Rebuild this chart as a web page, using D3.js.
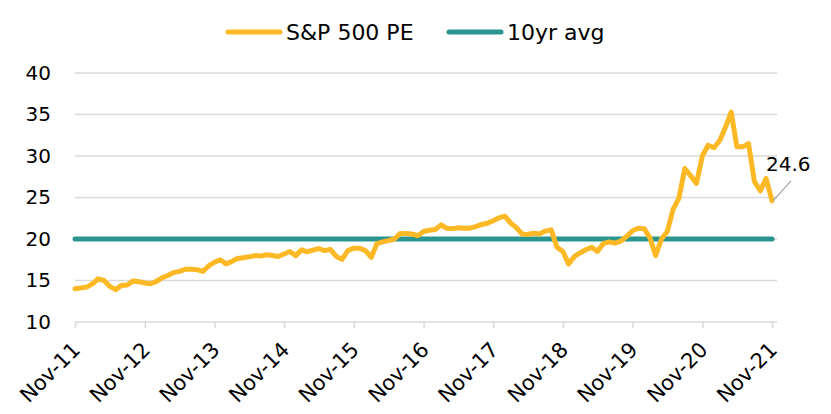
<!DOCTYPE html>
<html>
<head>
<meta charset="utf-8">
<script src="https://cdn.jsdelivr.net/npm/d3@7"></script>
<style>
  body { margin: 0; background: #fff; }
  text { font-family: "DejaVu Sans", sans-serif; fill: #000; }
</style>
</head>
<body>
<div id="chart"></div>
<script>
// monthly S&P 500 forward PE, Nov-11 .. Nov-21
const startMonth = new Date(2011, 10, 1);
const peValues = [
  14.0, 14.1, 14.2, 14.6, 15.2, 15.0, 14.3, 13.9, 14.4, 14.45, 14.95, 14.85,
  14.7, 14.6, 14.9, 15.35, 15.6, 15.95, 16.1, 16.35, 16.35, 16.3, 16.1, 16.75,
  17.2, 17.5, 17.0, 17.3, 17.65, 17.75, 17.85, 18.0, 17.95, 18.1, 18.0, 17.9,
  18.2, 18.5, 18.0, 18.7, 18.45, 18.65, 18.85, 18.6, 18.75, 17.9, 17.55, 18.6,
  18.9, 18.9, 18.6, 17.8, 19.45, 19.65, 19.8, 20.0, 20.65, 20.65, 20.6, 20.4,
  20.9, 21.05, 21.15, 21.7, 21.3, 21.25, 21.35, 21.3, 21.3, 21.5, 21.75, 21.9,
  22.2, 22.55, 22.75, 21.9, 21.4, 20.6, 20.55, 20.7, 20.6, 20.95, 21.1, 19.0,
  18.5, 17.0, 17.9, 18.35, 18.7, 19.0, 18.5, 19.45, 19.65, 19.5, 19.75, 20.3,
  21.0, 21.3, 21.25, 20.1, 18.0, 20.0, 20.9, 23.6, 24.9, 28.5, 27.6, 26.7,
  30.0, 31.3, 31.0, 31.9, 33.4, 35.3, 31.1, 31.1, 31.5, 26.9, 25.8, 27.3,
  24.6
];
const avgValue = 20;
const yTicks = [10, 15, 20, 25, 30, 35, 40];
const seriesNames = ["S&P 500 PE", "10yr avg"];
const seriesColors = ["#FDB825", "#2A958F"];

const data = peValues.map((v, i) => ({date: d3.timeMonth.offset(startMonth, i), value: v}));

const W = 831, H = 414;
const margin = {top: 73, right: 60, bottom: 92, left: 75};

const svg = d3.select("#chart").append("svg")
  .attr("width", W)
  .attr("height", H);

const x = d3.scaleTime()
  .domain(d3.extent(data, d => d.date))
  .range([margin.left, 772]);
const y = d3.scaleLinear()
  .domain([10, 40])
  .range([H - margin.bottom, margin.top]);

// gridlines
svg.append("g")
  .selectAll("line")
  .data(yTicks.slice(1))
  .join("line")
  .attr("x1", margin.left)
  .attr("x2", 777)
  .attr("y1", d => y(d))
  .attr("y2", d => y(d))
  .attr("stroke", "#d9d9d9")
  .attr("stroke-width", 1.5);

// y axis labels
const yAxis = d3.axisLeft(y).tickValues(yTicks).tickSize(0).tickPadding(0);
svg.append("g")
  .attr("transform", `translate(51,0)`)
  .call(yAxis)
  .call(g => g.select(".domain").remove())
  .call(g => g.selectAll("text")
    .style("font-size", "20px")
    .style("font-family", "DejaVu Sans")
    .attr("fill", "#000"));

// x axis
const xTicks = d3.timeYear.every(1).range(new Date(2011, 0, 1), new Date(2022, 0, 1))
  .map(d => new Date(d.getFullYear(), 10, 1));
const xAxis = d3.axisBottom(x)
  .tickValues(xTicks)
  .tickFormat(d3.timeFormat("%b-%y"))
  .tickSizeOuter(0)
  .tickSize(6);
const xg = svg.append("g")
  .attr("transform", `translate(0,${y(10)})`)
  .call(xAxis);
xg.select(".domain")
  .attr("d", `M${margin.left},0H777`)
  .attr("stroke", "#d9d9d9")
  .attr("stroke-width", 1.5);
xg.selectAll(".tick line")
  .attr("stroke", "#d9d9d9")
  .attr("stroke-width", 1.5);
xg.selectAll(".tick text")
  .attr("y", 0)
  .attr("dy", 0)
  .attr("text-anchor", "end")
  .attr("transform", "translate(6,29) rotate(-45)")
  .style("font-size", "21px")
  .style("font-family", "DejaVu Sans")
  .attr("fill", "#000");

// 10yr avg line
svg.append("line")
  .attr("x1", x(data[0].date))
  .attr("x2", x(data[data.length - 1].date))
  .attr("y1", y(avgValue))
  .attr("y2", y(avgValue))
  .attr("stroke", seriesColors[1])
  .attr("stroke-width", 5)
  .attr("stroke-linecap", "round");

// PE line
const line = d3.line()
  .x(d => x(d.date))
  .y(d => y(d.value));
svg.append("path")
  .datum(data)
  .attr("d", line)
  .attr("fill", "none")
  .attr("stroke", seriesColors[0])
  .attr("stroke-width", 5)
  .attr("stroke-linejoin", "round")
  .attr("stroke-linecap", "round");

// last value annotation
const last = data[data.length - 1];
const lx = x(last.date), ly = y(last.value);
svg.append("line")
  .attr("x1", lx + 1).attr("y1", ly)
  .attr("x2", lx + 19).attr("y2", ly - 20)
  .attr("stroke", "#a6a6a6")
  .attr("stroke-width", 1.3);
svg.append("text")
  .attr("x", lx - 6)
  .attr("y", ly - 30)
  .style("font-size", "20px")
  .text(last.value.toFixed(1));

// legend
const legend = svg.append("g");
const legendX = [228, 449];
seriesNames.forEach((name, i) => {
  legend.append("line")
    .attr("x1", legendX[i]).attr("x2", legendX[i] + 52)
    .attr("y1", 32).attr("y2", 32)
    .attr("stroke", seriesColors[i])
    .attr("stroke-width", 5)
    .attr("stroke-linecap", "round");
  legend.append("text")
    .attr("x", legendX[i] + 58)
    .attr("y", 40)
    .style("font-size", "22px")
    .text(name);
});
</script>
</body>
</html>
